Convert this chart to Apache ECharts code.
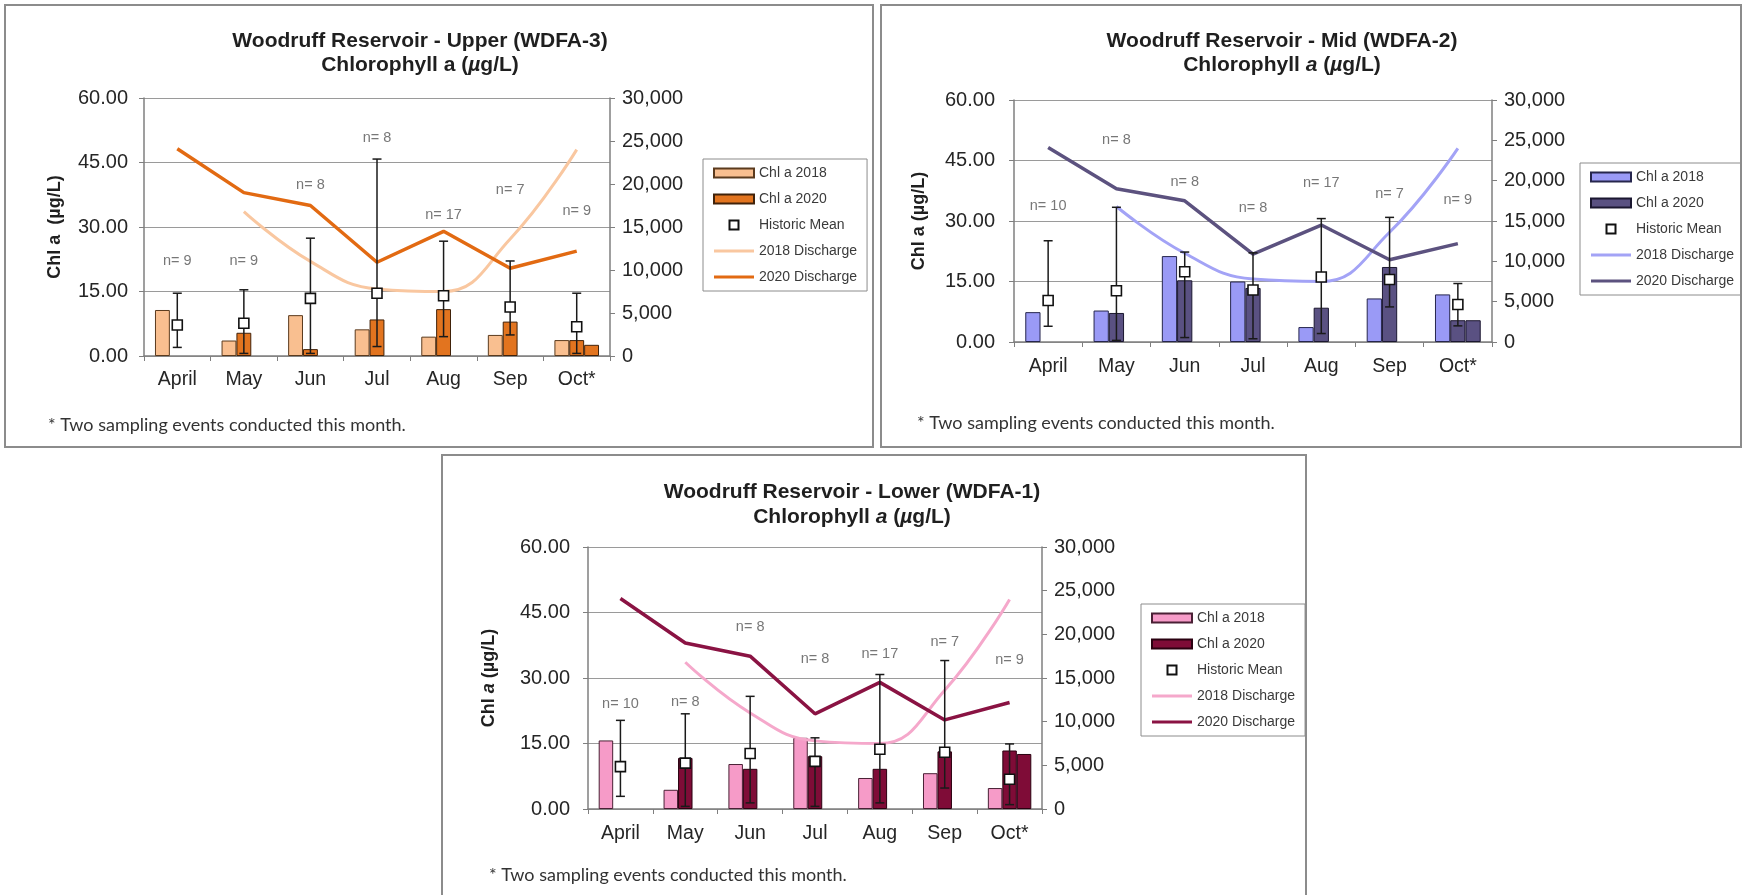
<!DOCTYPE html>
<html>
<head>
<meta charset="utf-8">
<script src="https://cdn.jsdelivr.net/npm/echarts@6/dist/echarts.min.js"></script>
<style>
  html, body { margin: 0; padding: 0; background: #fff; }
  body { width: 1743px; height: 895px; position: relative; overflow: hidden; }
  .panel { position: absolute; box-sizing: border-box; border: 2px solid #8c8c8c; background: #fff; }
  .chart { position: absolute; left: 0; top: 0; width: 100%; height: 100%; }
</style>
</head>
<body>
<div class="panel" id="p1"><div class="chart" id="c1"></div></div>
<div class="panel" id="p2"><div class="chart" id="c2"></div></div>
<div class="panel" id="p3"><div class="chart" id="c3"></div></div>
<script>
// Sampling months (October was sampled twice)
const months = ['April', 'May', 'Jun', 'Jul', 'Aug', 'Sep', 'Oct*'];

// Reservoir discharge (right axis), shared by all three stations
const discharge2018 = [null, 16800, 11000, 7800, 7500, 13600, 24000];
const discharge2020 = [24100, 19000, 17500, 10900, 14500, 10200, 12200];

// Upper station (WDFA-3), chlorophyll a in µg/L
const upperChl2018 = [10.7, 3.6, 9.5, 6.2, 4.5, 4.9, 3.7];
const upperChl2020 = [null, 5.4, 1.6, 8.5, 10.9, 8.0, 3.7];
const upperChl2020OctB = [null, null, null, null, null, null, 2.6];
const upperHistMean = [7.2, 7.6, 13.4, 14.6, 14.0, 11.4, 6.8];
const upperHistLow = [2.0, 0.6, 0.6, 2.2, 4.5, 4.9, 0.6];
const upperHistHigh = [14.6, 15.4, 27.4, 45.8, 26.7, 22.1, 14.6];
const upperN = [9, 9, 8, 8, 17, 7, 9];
const upperNLabelAt = [22.0, 22.0, 39.8, 50.7, 32.8, 38.7, 33.8];

// Mid station (WDFA-2)
const midChl2018 = [7.4, 7.8, 21.3, 15.0, 3.7, 10.8, 11.8];
const midChl2020 = [null, 7.2, 15.3, 13.4, 8.5, 18.6, 5.4];
const midChl2020OctB = [null, null, null, null, null, null, 5.4];
const midHistMean = [10.3, 12.7, 17.4, 12.9, 16.1, 15.5, 9.3];
const midHistLow = [3.9, 0.4, 1.1, 0.8, 2.1, 8.7, 4.0];
const midHistHigh = [25.1, 33.4, 22.3, 22.1, 30.6, 30.9, 14.5];
const midN = [10, 8, 8, 8, 17, 7, 9];
const midNLabelAt = [33.7, 50.2, 39.7, 33.1, 39.3, 36.7, 35.2];

// Lower station (WDFA-1)
const lowerChl2018 = [15.7, 4.4, 10.3, 16.3, 7.1, 8.2, 4.8];
const lowerChl2020 = [null, 11.7, 9.2, 12.1, 9.2, 13.2, 13.4];
const lowerChl2020OctB = [null, null, null, null, null, null, 12.6];
const lowerHistMean = [9.7, 10.5, 12.7, 10.9, 13.7, 13.0, 6.8];
const lowerHistLow = [2.9, 0.6, 1.4, 0.6, 1.4, 4.8, 1.0];
const lowerHistHigh = [20.3, 21.8, 25.8, 16.3, 30.8, 34.0, 14.9];
const lowerN = [10, 8, 8, 8, 17, 7, 9];
const lowerNLabelAt = [24.1, 24.5, 41.6, 34.4, 35.6, 38.2, 34.1];

const FONT = '"Liberation Sans", Arial, Helvetica, sans-serif';
const NOTE_FONT = 'Lato, "Open Sans", sans-serif';

const panels = [
  {
    el: 'p1', chart: 'c1',
    box: { x: 4, y: 4, w: 870, h: 444 },
    plot: { l: 144, r: 610, t: 98, b: 356 },
    title: 'Woodruff Reservoir - Upper (WDFA-3)', titleX: 420, titleY: [41, 65], italicA: false,
    yName: 'Chl a  (µg/L)', yNameX: 55, yLabelGap: 16, xLabelGap: 14,
    note: { x: 48, y: 425 },
    legend: { x: 703, y: 159 },
    chl2018: upperChl2018, chl2020: upperChl2020, chl2020b: upperChl2020OctB,
    mean: upperHistMean, low: upperHistLow, high: upperHistHigh, n: upperN, nAt: upperNLabelAt,
    colors: { c18: '#F9BF90', b18: '#5b3b1e', c20: '#E2741F', b20: '#40220a', d18: '#F9C7A0', d20: '#E26A12' }
  },
  {
    el: 'p2', chart: 'c2',
    box: { x: 880, y: 4, w: 862, h: 444 },
    plot: { l: 1014, r: 1492, t: 100, b: 342 },
    title: 'Woodruff Reservoir - Mid (WDFA-2)', titleX: 1282, titleY: [41, 65], italicA: true,
    yName: 'Chl a (µg/L)', yNameX: 919, yLabelGap: 19, xLabelGap: 15,
    note: { x: 917, y: 423 },
    legend: { x: 1580, y: 163 },
    chl2018: midChl2018, chl2020: midChl2020, chl2020b: midChl2020OctB,
    mean: midHistMean, low: midHistLow, high: midHistHigh, n: midN, nAt: midNLabelAt,
    colors: { c18: '#9A9AF6', b18: '#26264d', c20: '#5A5182', b20: '#1b1730', d18: '#A3A3F6', d20: '#5C527F' }
  },
  {
    el: 'p3', chart: 'c3',
    box: { x: 441, y: 454, w: 866, h: 452 },
    plot: { l: 588, r: 1042, t: 547, b: 809 },
    title: 'Woodruff Reservoir - Lower (WDFA-1)', titleX: 852, titleY: [492, 517], italicA: true,
    yName: 'Chl a (µg/L)', yNameItalic: true, yNameX: 489, yLabelGap: 18, xLabelGap: 15,
    note: { x: 489, y: 875 },
    legend: { x: 1141, y: 604 },
    chl2018: lowerChl2018, chl2020: lowerChl2020, chl2020b: lowerChl2020OctB,
    mean: lowerHistMean, low: lowerHistLow, high: lowerHistHigh, n: lowerN, nAt: lowerNLabelAt,
    colors: { c18: '#F69BC8', b18: '#4a2035', c20: '#7F0C37', b20: '#2a0010', d18: '#F5A8CB', d20: '#8A1343' }
  }
];

// Whisker from the historic low to the historic high, with caps
function errorBarItem(params, api) {
  const x = api.value(0);
  const lo = api.coord([x, api.value(1)]);
  const hi = api.coord([x, api.value(2)]);
  const hw = 4.5;
  const style = { stroke: '#1a1a1a', lineWidth: 1.5 };
  return {
    type: 'group',
    children: [
      { type: 'line', shape: { x1: lo[0], y1: lo[1], x2: hi[0], y2: hi[1] }, style },
      { type: 'line', shape: { x1: hi[0] - hw, y1: hi[1], x2: hi[0] + hw, y2: hi[1] }, style },
      { type: 'line', shape: { x1: lo[0] - hw, y1: lo[1], x2: lo[0] + hw, y2: lo[1] }, style }
    ]
  };
}

function buildOption(p) {
  const ox = p.box.x + 2, oy = p.box.y + 2;
  const c = p.colors;
  const axisColor = '#7f7f7f';
  const textColor = '#262626';
  const pw = p.plot.r - p.plot.l, ph = p.plot.b - p.plot.t;

  const rich = {
    b: { fontFamily: FONT, fontWeight: 'bold', fontSize: 21, fill: '#1f1f1f' },
    bi: { fontFamily: FONT, fontWeight: 'bold', fontStyle: 'italic', fontSize: 21, fill: '#1f1f1f' }
  };
  const line2 = p.italicA
    ? '{b|Chlorophyll }{bi|a}{b| (}{bi|µ}{b|g/L)}'
    : '{b|Chlorophyll a (}{bi|µ}{b|g/L)}';
  const yRich = {
    b: { fontFamily: FONT, fontWeight: 'bold', fontSize: 18, fill: '#1f1f1f' },
    bi: { fontFamily: FONT, fontWeight: 'bold', fontStyle: 'italic', fontSize: 18, fill: '#1f1f1f' }
  };
  const yNameText = p.yNameItalic ? '{b|Chl }{bi|a}{b| (µg/L)}' : '{b|' + p.yName + '}';
  const lineIcon = 'path://M0,0H40V3H0Z';

  return {
    animation: false,
    backgroundColor: '#fff',
    textStyle: { fontFamily: FONT },
    grid: { left: p.plot.l - ox, top: p.plot.t - oy, width: pw, height: ph },
    legend: {
      left: p.legend.x - ox, top: p.legend.y - oy,
      orient: 'vertical',
      data: [
        { name: 'Chl a 2018', icon: 'rect' },
        { name: 'Chl a 2020', icon: 'rect' },
        { name: 'Historic Mean', icon: 'path://M0,0H10V10H0Z' },
        { name: '2018 Discharge', icon: lineIcon, itemStyle: { color: c.d18, borderWidth: 0 } },
        { name: '2020 Discharge', icon: lineIcon, itemStyle: { color: c.d20, borderWidth: 0 } }
      ],
      itemWidth: 40, itemHeight: 9, itemGap: 12,
      padding: [7, 10, 7, 10],
      borderColor: '#8c8c8c', borderWidth: 1,
      textStyle: { fontFamily: FONT, fontSize: 14, color: '#3a3a3a' },
      selectedMode: false
    },
    xAxis: {
      type: 'category', data: months, boundaryGap: true,
      axisLine: { lineStyle: { color: axisColor, width: 1.5 } },
      axisTick: { show: true, length: 5, lineStyle: { color: axisColor } },
      axisLabel: { fontSize: 19.5, color: textColor, margin: p.xLabelGap, fontFamily: FONT }
    },
    yAxis: [
      {
        type: 'value', min: 0, max: 60, interval: 15,
        axisLine: { show: true, lineStyle: { color: axisColor, width: 1.5 } },
        axisTick: { show: true, length: 5, lineStyle: { color: axisColor } },
        axisLabel: { fontSize: 20, color: textColor, margin: p.yLabelGap, fontFamily: FONT,
          formatter: v => v.toFixed(2) },
        splitLine: { show: true, lineStyle: { color: '#9a9a9a', width: 1.2 } }
      },
      {
        type: 'value', min: 0, max: 30000, interval: 5000, position: 'right',
        axisLine: { show: true, lineStyle: { color: axisColor, width: 1.5 } },
        axisTick: { show: true, length: 5, lineStyle: { color: axisColor } },
        axisLabel: { fontSize: 20, color: textColor, margin: 12, fontFamily: FONT,
          formatter: v => v.toLocaleString('en-US') },
        splitLine: { show: false }
      }
    ],
    series: [
      {
        name: 'Chl a 2018', type: 'bar', data: p.chl2018,
        barGap: '0%', barCategoryGap: '33%',
        itemStyle: { color: c.c18, borderColor: c.b18, borderWidth: 1 }
      },
      {
        name: 'Chl a 2020', type: 'bar', data: p.chl2020,
        itemStyle: { color: c.c20, borderColor: c.b20, borderWidth: 1 }
      },
      {
        // second October sampling event
        name: 'Chl a 2020', type: 'bar', data: p.chl2020b,
        itemStyle: { color: c.c20, borderColor: c.b20, borderWidth: 1 }
      },
      {
        name: '2018 Discharge', type: 'line', yAxisIndex: 1, data: discharge2018,
        smooth: 0.45, symbol: 'none', showSymbol: false, connectNulls: false,
        lineStyle: { color: c.d18, width: 3 }, itemStyle: { color: c.d18 }, z: 3
      },
      {
        name: '2020 Discharge', type: 'line', yAxisIndex: 1, data: discharge2020,
        symbol: 'none', showSymbol: false,
        lineStyle: { color: c.d20, width: 3.5 }, itemStyle: { color: c.d20 }, z: 3
      },
      {
        name: 'Historic range', type: 'custom', renderItem: errorBarItem,
        data: months.map((m, i) => [i, p.low[i], p.high[i]]),
        encode: { x: 0, y: [1, 2] }, z: 4, silent: true
      },
      {
        name: 'Historic Mean', type: 'scatter', data: p.mean,
        symbol: 'rect', symbolSize: 10,
        itemStyle: { color: '#ffffff', borderColor: '#111', borderWidth: 1.6, opacity: 1 }, z: 5
      },
      {
        name: 'Sample count', type: 'scatter', silent: true,
        data: months.map((m, i) => [i, p.nAt[i], p.n[i]]),
        symbolSize: 0, z: 6,
        label: {
          show: true, position: 'inside', fontSize: 14.5, color: '#555', fontFamily: FONT,
          formatter: prm => 'n= ' + prm.value[2]
        }
      }
    ],
    graphic: [
      {
        type: 'text', x: p.titleX - ox, y: p.titleY[0] - oy, silent: true,
        style: { text: '{b|' + p.title + '}', rich, align: 'center', verticalAlign: 'middle' }
      },
      {
        type: 'text', x: p.titleX - ox, y: p.titleY[1] - oy, silent: true,
        style: { text: line2, rich, align: 'center', verticalAlign: 'middle' }
      },
      {
        type: 'text', x: p.yNameX - ox, y: (p.plot.t + p.plot.b) / 2 - oy, rotation: Math.PI / 2, silent: true,
        style: { text: yNameText, rich: yRich, align: 'center', verticalAlign: 'middle' }
      },
      {
        type: 'text', x: p.note.x - ox, y: p.note.y - oy, silent: true,
        style: { text: '* Two sampling events conducted this month.', fontFamily: NOTE_FONT,
          fontSize: 18, fill: '#333', align: 'left', verticalAlign: 'middle' }
      }
    ]
  };
}

panels.forEach(p => {
  const box = document.getElementById(p.el);
  box.style.left = p.box.x + 'px';
  box.style.top = p.box.y + 'px';
  box.style.width = p.box.w + 'px';
  box.style.height = p.box.h + 'px';
  const chart = echarts.init(document.getElementById(p.chart), null, { renderer: 'canvas' });
  chart.setOption(buildOption(p));
});
</script>
</body>
</html>
